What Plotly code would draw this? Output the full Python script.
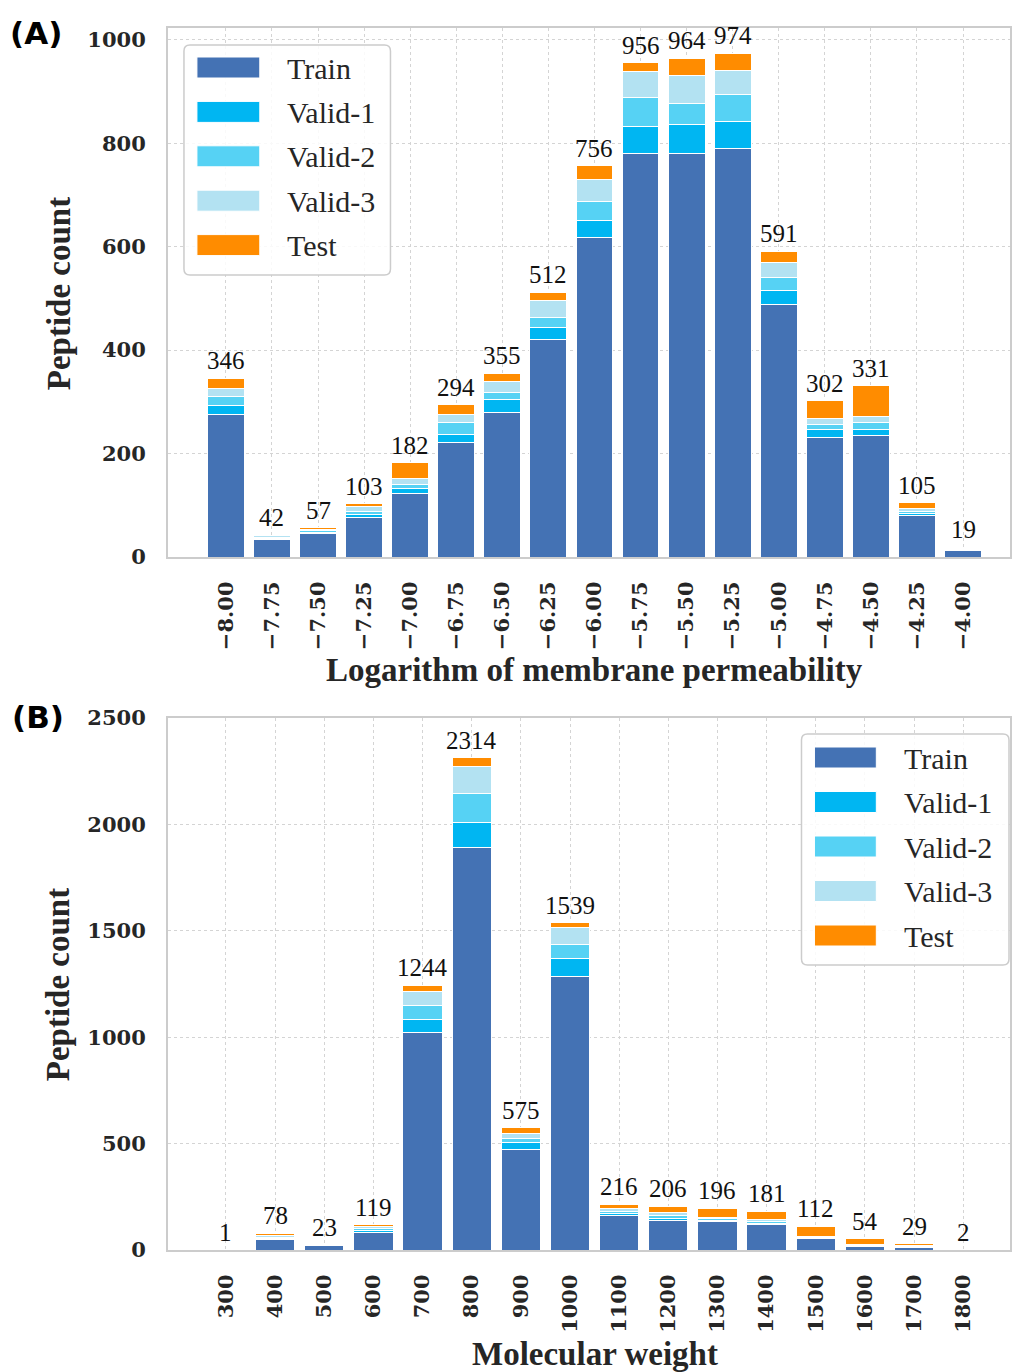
import plotly.graph_objects as go

# ---- data -------------------------------------------------------------
series_names = ["Train", "Valid-1", "Valid-2", "Valid-3", "Test"]
series_colors = ["#4472b4", "#00b6f2", "#56d2f4", "#b3e2f2", "#ff8c00"]

perm_labels = ["\u22128.00", "\u22127.75", "\u22127.50", "\u22127.25", "\u22127.00",
               "\u22126.75", "\u22126.50", "\u22126.25", "\u22126.00", "\u22125.75",
               "\u22125.50", "\u22125.25", "\u22125.00", "\u22124.75", "\u22124.50",
               "\u22124.25", "\u22124.00"]
perm_train = [275, 34, 45, 76, 123, 221, 279, 421, 617, 780, 781, 790, 489, 232, 235, 80, 12]
perm_valid1 = [18, 2, 3, 6, 9, 15, 26, 22, 34, 52, 55, 51, 26, 14, 11, 4, 1]
perm_valid2 = [18, 2, 3, 6, 9, 24, 13, 20, 37, 57, 41, 53, 25, 11, 15, 4, 2]
perm_valid3 = [15, 3, 3, 10, 10, 16, 22, 33, 42, 49, 53, 46, 30, 11, 10, 5, 2]
perm_test = [20, 1, 3, 5, 31, 18, 15, 16, 26, 18, 34, 34, 21, 34, 60, 12, 2]

mw_labels = ["300", "400", "500", "600", "700", "800", "900", "1000", "1100",
             "1200", "1300", "1400", "1500", "1600", "1700", "1800"]
mw_train = [1, 50, 19, 83, 1021, 1890, 471, 1284, 162, 141, 132, 118, 54, 16, 12, 1]
mw_valid1 = [0, 4, 1, 9, 60, 118, 32, 84, 8, 7, 8, 7, 3, 2, 3, 0]
mw_valid2 = [0, 6, 1, 9, 67, 136, 21, 67, 12, 12, 6, 8, 3, 3, 3, 0]
mw_valid3 = [0, 10, 1, 9, 67, 127, 24, 81, 14, 18, 8, 11, 5, 3, 4, 0]
mw_test = [0, 8, 1, 9, 29, 43, 27, 23, 20, 28, 42, 37, 47, 30, 7, 1]

perm_ticks = [0, 200, 400, 600, 800, 1000]
mw_ticks = [0, 500, 1000, 1500, 2000, 2500]

# ---- page geometry (pixels) -------------------------------------------
W, H = 1013, 1372
ML, MR, MT, MB = 168, 1, 28, 122
PW = W - ML - MR
PH = H - MT - MB


def px(x):
    return (x - ML) / PW


def py(y):
    return (H - MB - y) / PH


SERIF = "Liberation Serif"
TICK_FONT = dict(family="DejaVu Serif", size=21, color="#262626", weight="bold")
GRID = "#d4d4d4"

fig = go.Figure()

panels = [
    ("x", "y", perm_labels, [perm_train, perm_valid1, perm_valid2, perm_valid3, perm_test]),
    ("x2", "y2", mw_labels, [mw_train, mw_valid1, mw_valid2, mw_valid3, mw_test]),
]

annotations = []
for xa, ya, cats, stacks in panels:
    for name, color, vals in zip(series_names, series_colors, stacks):
        fig.add_trace(go.Bar(
            x=cats, y=vals, name=name, xaxis=xa, yaxis=ya,
            marker=dict(color=color, line=dict(color="white", width=1)),
            width=0.8, showlegend=False,
        ))
    totals = [sum(v) for v in zip(*stacks)]
    # total count above each stacked bar (category index as x position)
    for i, t in enumerate(totals):
        annotations.append(dict(
            x=i, y=t, xref=xa, yref=ya, text=str(t), showarrow=False,
            yanchor="bottom", xanchor="center", yshift=2,
            font=dict(family=SERIF, size=25, color="#111111"),
        ))

axis_common = dict(
    showline=True, mirror=True, linecolor="#cccccc", linewidth=2,
    showgrid=True, gridcolor=GRID, griddash="dot", gridwidth=1,
    zeroline=False, tickfont=TICK_FONT, ticks="",
)

fig.update_layout(
    width=W, height=H, autosize=False,
    margin=dict(l=ML, r=MR, t=MT, b=MB),
    plot_bgcolor="white", paper_bgcolor="white",
    barmode="stack", bargap=0.2,
    xaxis=dict(axis_common, domain=[0, 1], anchor="y", type="category",
               range=[-1.256, 17.02], tickangle=-90, ticklabelstandoff=14),
    yaxis=dict(axis_common, domain=[py(557), 1], anchor="x",
               range=[0, 1022.7], tickvals=perm_ticks, ticklabelstandoff=16),
    xaxis2=dict(axis_common, domain=[0, 1], anchor="y2", type="category",
                range=[-1.177, 15.95], tickangle=-90, ticklabelstandoff=14),
    yaxis2=dict(axis_common, domain=[0, py(718)], anchor="x2",
                range=[0, 2500], tickvals=mw_ticks, ticklabelstandoff=16),
)

title_font = dict(family=SERIF, size=33, color="#262626", weight="bold")
annotations += [
    dict(text="Logarithm of membrane permeability", x=px(596), y=py(670),
         xref="paper", yref="paper", showarrow=False, font=title_font,
         xanchor="center", yanchor="middle"),
    dict(text="Molecular weight", x=px(596), y=py(1354),
         xref="paper", yref="paper", showarrow=False, font=title_font,
         xanchor="center", yanchor="middle"),
    dict(text="Peptide count", x=px(59), y=py(294), textangle=-90,
         xref="paper", yref="paper", showarrow=False, font=title_font,
         xanchor="center", yanchor="middle"),
    dict(text="Peptide count", x=px(58), y=py(985), textangle=-90,
         xref="paper", yref="paper", showarrow=False, font=title_font,
         xanchor="center", yanchor="middle"),
    dict(text="(A)", x=px(8), y=py(33), xref="paper", yref="paper",
         showarrow=False, xanchor="left", yanchor="middle",
         font=dict(family="DejaVu Sans", size=31, color="black", weight="bold")),
    dict(text="(B)", x=px(10), y=py(717), xref="paper", yref="paper",
         showarrow=False, xanchor="left", yanchor="middle",
         font=dict(family="DejaVu Sans", size=31, color="black", weight="bold")),
]

# ---- hand-built legends -------------------------------------------------
shapes = []


def rounded_box(x0, y0, x1, y1, r=6):
    pts = [
        f"M {px(x0 + r)},{py(y0)}",
        f"L {px(x1 - r)},{py(y0)}",
        f"Q {px(x1)},{py(y0)} {px(x1)},{py(y0 + r)}",
        f"L {px(x1)},{py(y1 - r)}",
        f"Q {px(x1)},{py(y1)} {px(x1 - r)},{py(y1)}",
        f"L {px(x0 + r)},{py(y1)}",
        f"Q {px(x0)},{py(y1)} {px(x0)},{py(y1 - r)}",
        f"L {px(x0)},{py(y0 + r)}",
        f"Q {px(x0)},{py(y0)} {px(x0 + r)},{py(y0)}",
        "Z",
    ]
    return dict(type="path", path=" ".join(pts), xref="paper", yref="paper",
                fillcolor="rgba(255,255,255,0.85)",
                line=dict(color="#cccccc", width=1.5))


def legend_block(box, patch_x0, patch_x1, first_top, step, text_x):
    shapes.append(rounded_box(*box))
    for k, (name, color) in enumerate(zip(series_names, series_colors)):
        top = first_top + k * step
        shapes.append(dict(type="rect", xref="paper", yref="paper",
                           x0=px(patch_x0), x1=px(patch_x1),
                           y0=py(top + 21), y1=py(top),
                           fillcolor=color, line=dict(color="white", width=1)))
        annotations.append(dict(text=name, x=px(text_x), y=py(top + 11),
                                xref="paper", yref="paper", showarrow=False,
                                xanchor="left", yanchor="middle",
                                font=dict(family=SERIF, size=30, color="#262626")))


legend_block((184, 45, 391, 275), 197, 260, 57, 44.4, 285)
legend_block((803, 734, 1011, 965), 816, 878, 747, 44.5, 904)

fig.update_layout(annotations=annotations, shapes=shapes)

fig.write_html("out.html")
